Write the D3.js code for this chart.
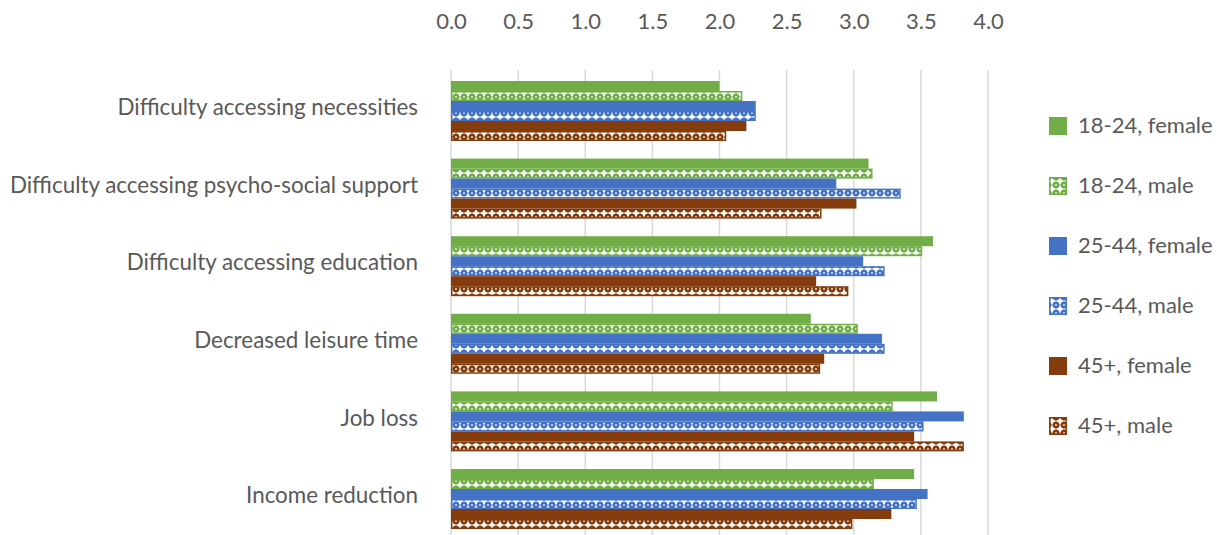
<!DOCTYPE html>
<html><head><meta charset="utf-8">
<script src="https://cdn.jsdelivr.net/npm/d3@7"></script>
<style>body{margin:0;background:#fff}svg{display:block}text{font-family:Lato,"Open Sans",sans-serif;fill:#595959}</style>
</head><body><svg id="c" width="1225" height="535"></svg>
<script>
const categories = ["Difficulty accessing necessities","Difficulty accessing psycho-social support","Difficulty accessing education","Decreased leisure time","Job loss","Income reduction"];
const seriesNames = ["18-24, female","18-24, male","25-44, female","25-44, male","45+, female","45+, male"];
const seriesColors = ["#70AD47","#70AD47","#4472C4","#4472C4","#843C0C","#843C0C"];
const seriesHatched = [false,true,false,true,false,true];
const f1824 = [2.00,3.11,3.59,2.68,3.62,3.45];
const m1824 = [2.17,3.14,3.51,3.03,3.29,3.15];
const f2544 = [2.27,2.87,3.07,3.21,3.82,3.55];
const m2544 = [2.27,3.35,3.23,3.23,3.52,3.47];
const f45 = [2.20,3.02,2.72,2.78,3.45,3.28];
const m45 = [2.05,2.76,2.96,2.75,3.82,2.99];
const seriesValues = [f1824,m1824,f2544,m2544,f45,m45];
const tickValues = [0,0.5,1,1.5,2,2.5,3,3.5,4];

const svg = d3.select("#c");
const defs = svg.append("defs");
const hexes = ["#70AD47","#4472C4","#843C0C"];
hexes.forEach((c,i)=>{
  const p = defs.append("pattern").attr("id","pat"+i).attr("patternUnits","userSpaceOnUse").attr("width",8).attr("height",8).attr("y",1);
  p.append("rect").attr("width",8).attr("height",8).attr("fill",c);
  p.append("rect").attr("x",0.5).attr("y",3).attr("width",7).attr("height",2).attr("fill","#fff").attr("opacity",0.9);
  p.append("rect").attr("x",3).attr("y",0.5).attr("width",2).attr("height",7).attr("fill","#fff").attr("opacity",0.9);
  p.append("rect").attr("x",2).attr("y",2).attr("width",4).attr("height",4).attr("fill","#fff").attr("opacity",0.5);
  [[-1,-1],[7,7],[7,-1],[-1,7]].forEach(([a,b])=>p.append("rect").attr("x",a).attr("y",b).attr("width",2).attr("height",2).attr("fill","#fff").attr("opacity",0.6));
});
const patId = c => "url(#pat"+hexes.indexOf(c)+")";

const x = d3.scaleLinear().domain([0,4]).range([451,988]);
const y = d3.scaleBand().domain(categories).range([70,540]).paddingInner(0.227).paddingOuter(0.1418);
const yi = d3.scaleBand().domain(d3.range(6)).range([0,y.bandwidth()]);

svg.append("g").selectAll("line").data(tickValues).join("line")
  .attr("x1",d=>x(d)).attr("x2",d=>x(d)).attr("y1",70).attr("y2",535)
  .attr("stroke","#d9d9d9").attr("stroke-width",1.5);

const xa = svg.append("g").attr("transform","translate(0,29)")
  .call(d3.axisTop(x).tickValues(tickValues).tickFormat(d3.format(".1f")).tickSize(0).tickPadding(0));
xa.select(".domain").remove();
xa.selectAll("text").style("font-size","22px").attr("fill","#595959").attr("dy","0").style("font-family","Lato");

const ya = svg.append("g").attr("transform","translate(418,-3)")
  .call(d3.axisLeft(y).tickSize(0).tickPadding(0));
ya.select(".domain").remove();
ya.selectAll("text").style("font-size","22.4px").attr("fill","#595959").style("font-family","Lato");

seriesValues.forEach((vals,s)=>{
  const hatched = seriesHatched[s];
  svg.append("g").selectAll("rect").data(vals).join("rect")
    .attr("x",x(0)+ (hatched?0.75:0))
    .attr("y",(d,i)=>y(categories[i])+yi(s)+(hatched?0.75:0))
    .attr("width",d=>x(d)-x(0)-(hatched?1.5:0))
    .attr("height",yi.bandwidth()-(hatched?1.5:0))
    .attr("fill",hatched?patId(seriesColors[s]):seriesColors[s])
    .attr("stroke",hatched?seriesColors[s]:"none").attr("stroke-width",1.5);
});

const lg = svg.append("g");
seriesNames.forEach((n,s)=>{
  const yy = 125 + s*60;
  const hatched = seriesHatched[s];
  lg.append("rect").attr("x",1049+(hatched?0.75:0)).attr("y",yy-8+(hatched?0.75:0))
    .attr("width",hatched?16.5:18).attr("height",hatched?16.5:18)
    .attr("fill",hatched?patId(seriesColors[s]):seriesColors[s])
    .attr("stroke",hatched?seriesColors[s]:"none").attr("stroke-width",1.5);
  lg.append("text").attr("x",1078).attr("y",yy).attr("dy","0.35em").style("font-size","22px").text(n);
});
</script></body></html>
